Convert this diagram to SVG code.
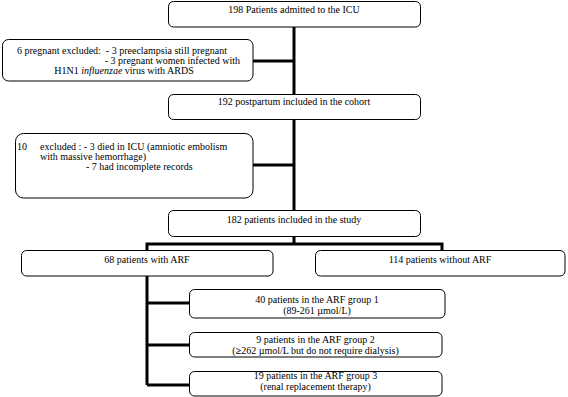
<svg xmlns="http://www.w3.org/2000/svg" width="568" height="397" viewBox="0 0 568 397">
<style>
.box{fill:#fff;stroke:#000;stroke-width:1}
text{font-family:"Liberation Serif","Times New Roman",serif;font-size:10px;fill:#000}
.c{text-anchor:middle}
.conn{stroke:#000;stroke-width:3;fill:none;stroke-linecap:butt}
</style>
<rect width="568" height="397" fill="#fff"/>
<g id="connectors">
<path class="conn" d="M294,27 V210"/>
<path class="conn" d="M253,61 H294"/>
<path class="conn" d="M253,165 H294"/>
<path class="conn" d="M294,236 V244 M147,251 V244 H442 V251"/>
<path class="conn" d="M147,276 V385"/>
<path class="conn" d="M147,303 H189 M147,345 H189 M147,385 H189"/>
</g>
<g id="n1"><rect class="box" x="168.5" y="1.5" width="252" height="25.5" rx="5"/><text class="c" x="294" y="12.5">198 Patients admitted to the ICU</text></g>
<g id="n2"><rect class="box" x="2.5" y="39.5" width="250.5" height="41.5" rx="6"/>
<text x="17" y="53.5" xml:space="preserve">6 pregnant excluded:  - 3 preeclampsia still pregnant</text>
<text x="240" y="63.5" text-anchor="end">- 3 pregnant women infected with</text>
<text class="c" x="124" y="73.5">H1N1 <tspan font-style="italic">influenzae</tspan> virus with ARDS</text></g>
<g id="n3"><rect class="box" x="168.5" y="94.5" width="252" height="25" rx="5"/><text class="c" x="294" y="105">192 postpartum included in the cohort</text></g>
<g id="n4"><rect class="box" x="15.5" y="133.5" width="237.5" height="64.5" rx="8"/>
<text x="17" y="149.5">10</text>
<text x="40" y="149.5">excluded : - 3 died in ICU (amniotic embolism</text>
<text x="40" y="159.5">with massive hemorrhage)</text>
<text x="86" y="169.5">- 7 had incomplete records</text></g>
<g id="n5"><rect class="box" x="168.5" y="210.5" width="252" height="26" rx="5"/><text class="c" x="294" y="222.5">182 patients included in the study</text></g>
<g id="n6"><rect class="box" x="21.5" y="250.5" width="251.5" height="25.5" rx="5"/><text class="c" x="147" y="262.5">68 patients with ARF</text></g>
<g id="n7"><rect class="box" x="315.5" y="250.5" width="249.5" height="25.5" rx="5"/><text class="c" x="440" y="262.5">114 patients without ARF</text></g>
<g id="n8"><rect class="box" x="189.5" y="289.5" width="255.5" height="28.5" rx="5"/><text class="c" x="317" y="302.5">40 patients in the ARF group 1</text><text class="c" x="317" y="313.5">(89-261 µmol/L)</text></g>
<g id="n9"><rect class="box" x="189.5" y="332.5" width="252.5" height="24.5" rx="5"/><text class="c" x="315.5" y="342.5">9 patients in the ARF group 2</text><text class="c" x="315.5" y="353.5">(<tspan font-weight="bold">≥</tspan>262 µmol/L but do not require dialysis)</text></g>
<g id="n10"><rect class="box" x="189.5" y="371.5" width="252.5" height="24.5" rx="5"/><text class="c" x="315.5" y="378.5">19 patients in the ARF group 3</text><text class="c" x="315.5" y="389.5">(renal replacement therapy)</text></g>
</svg>
